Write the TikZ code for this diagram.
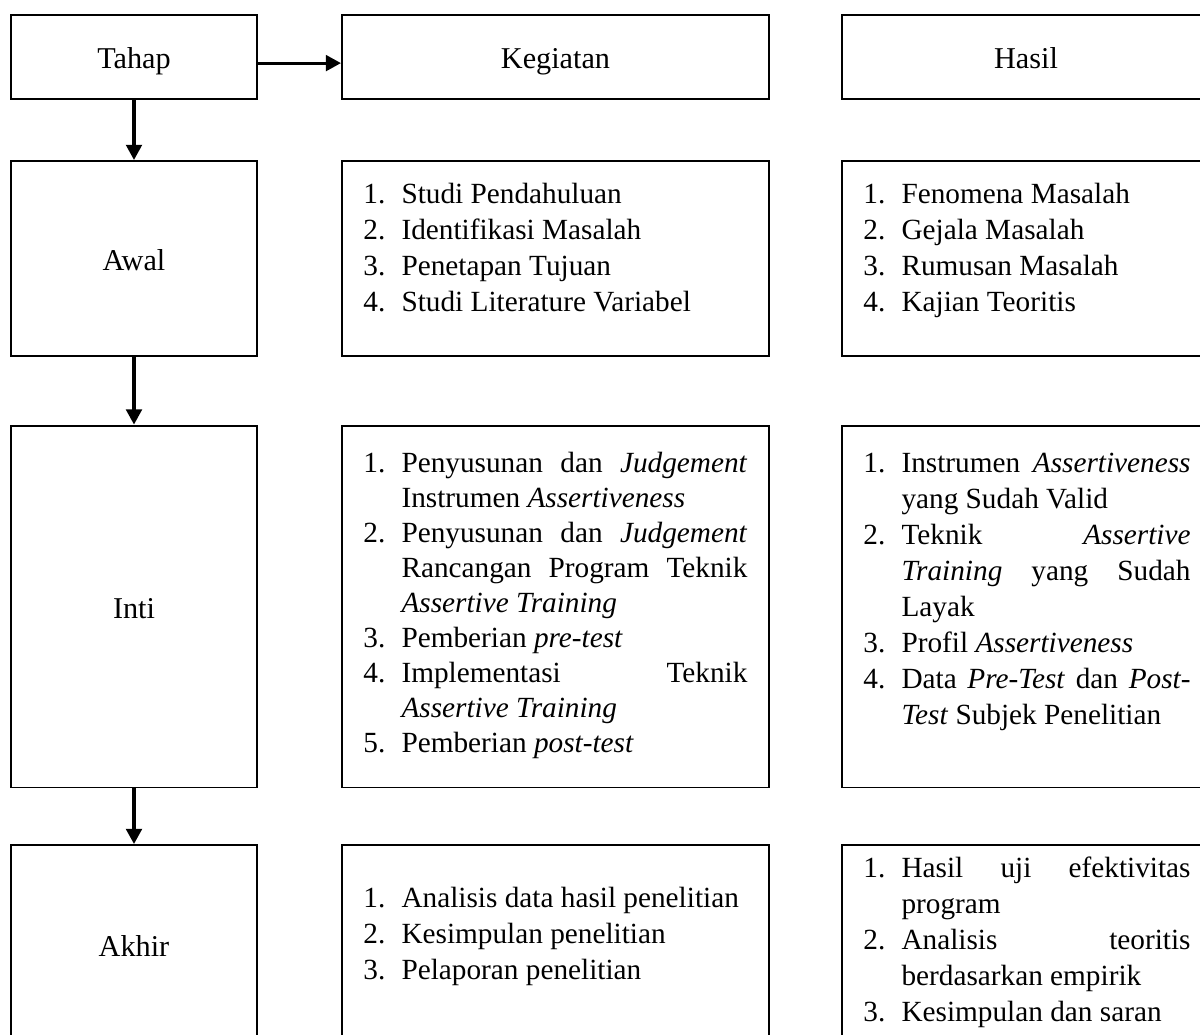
\documentclass[tikz,border=0pt]{standalone}
\usepackage{fontspec}
\setmainfont{Liberation Serif}
\usetikzlibrary{arrows.meta, positioning}

\tolerance=10000
\hbadness=10000
\newcommand{\itm}[2]{\noindent\hangindent=15.6pt\hangafter=1\makebox[15.6pt][l]{#1}#2\par}

\begin{document}
\begin{tikzpicture}[
  x=0.41pt, y=-0.41pt,
  box/.style={rectangle, draw, line width=0.8pt, inner sep=0pt, text height=9.6pt, text depth=0pt, font=\fontsize{12.4pt}{14.8pt}\selectfont},
  col1/.style={box, minimum width=100.9pt},
  col2/.style={box, minimum width=175.1pt},
  col3/.style={box, minimum width=150.9pt},
  list/.style={anchor=base west, inner sep=0pt, align=justify, font=\fontsize{12pt}{14.8pt}\selectfont},
  arr/.style={-{Triangle[length=6.2pt, width=6.4pt]}, line width=1.3pt}
]
\useasboundingbox (0,0) rectangle (1200,1035);
\clip (0,0) rectangle (1200,1035);

% header
\node[col1, minimum height=34.4pt] (tahap) at (134, 57) {Tahap};
\node[col2, minimum height=34.4pt] (kegiatan) at (555.5, 57) {Kegiatan};
\node[col3, minimum height=34.4pt] (hasil) at (1026, 57) {Hasil};

% awal
\node[col1, minimum height=80pt] (awal) at (134, 258.5) {Awal};
\node[col2, minimum height=80pt] (awalkeg) at (555.5, 258.5) {};
\node[col3, minimum height=80pt] (awalhasil) at (1026, 258.5) {};

\node[list, text width=157.4pt] (awalkeg-list) at (363, 203) {%
  \itm{1.}{Studi Pendahuluan}
  \itm{2.}{Identifikasi Masalah}
  \itm{3.}{Penetapan Tujuan}
  \itm{4.}{Studi Literature Variabel}};
\node[list, text width=134.1pt] (awalhasil-list) at (863, 203) {%
  \itm{1.}{Fenomena Masalah}
  \itm{2.}{Gejala Masalah}
  \itm{3.}{Rumusan Masalah}
  \itm{4.}{Kajian Teoritis}};

% inti
\node[col1, minimum height=148.4pt] (inti) at (134, 606.5) {Inti};
\node[col2, minimum height=148.4pt] (intikeg) at (555.5, 606.5) {};
\node[col3, minimum height=148.4pt] (intihasil) at (1026, 606.5) {};

\node[list, text width=157.4pt, font=\fontsize{12pt}{14.4pt}\selectfont] (intikeg-list) at (363, 472) {%
  \itm{1.}{Penyusunan dan \textit{Judgement}\linebreak Instrumen \textit{Assertiveness}}
  \itm{2.}{Penyusunan dan \textit{Judgement}\linebreak Rancangan Program Teknik\linebreak \textit{Assertive Training}}
  \itm{3.}{Pemberian \textit{pre-test}}
  \itm{4.}{Implementasi Teknik\linebreak \textit{Assertive Training}}
  \itm{5.}{Pemberian \textit{post-test}}};
\node[list, text width=134.1pt] (intihasil-list) at (863, 472) {%
  \itm{1.}{Instrumen \textit{Assertiveness}\linebreak yang Sudah Valid}
  \itm{2.}{Teknik \textit{Assertive}\linebreak \textit{Training} yang Sudah\linebreak Layak}
  \itm{3.}{Profil \textit{Assertiveness}}
  \itm{4.}{Data \textit{Pre-Test} dan \textit{Post-}\linebreak\textit{Test} Subjek Penelitian}};

% akhir
\node[col1, minimum height=82pt] (akhir) at (134, 945) {Akhir};
\node[col2, minimum height=82pt] (akhirkeg) at (555.5, 945) {};
\node[col3, minimum height=82pt] (akhirhasil) at (1026, 945) {};

\node[list, text width=157.4pt] (akhirkeg-list) at (363, 907) {%
  \itm{1.}{Analisis data hasil penelitian}
  \itm{2.}{Kesimpulan penelitian}
  \itm{3.}{Pelaporan penelitian}};
\node[list, text width=134.1pt] (akhirhasil-list) at (863, 877) {%
  \itm{1.}{Hasil uji efektivitas\linebreak program}
  \itm{2.}{Analisis teoritis\linebreak berdasarkan empirik}
  \itm{3.}{Kesimpulan dan saran}};

% arrows
\draw[arr] ([yshift=-2.5pt]tahap.east) -- ([yshift=-2.5pt]kegiatan.west);
\draw[arr] (tahap) -- (awal);
\draw[arr] (awal) -- (inti);
\draw[arr] (inti) -- (akhir);

\end{tikzpicture}
\end{document}
